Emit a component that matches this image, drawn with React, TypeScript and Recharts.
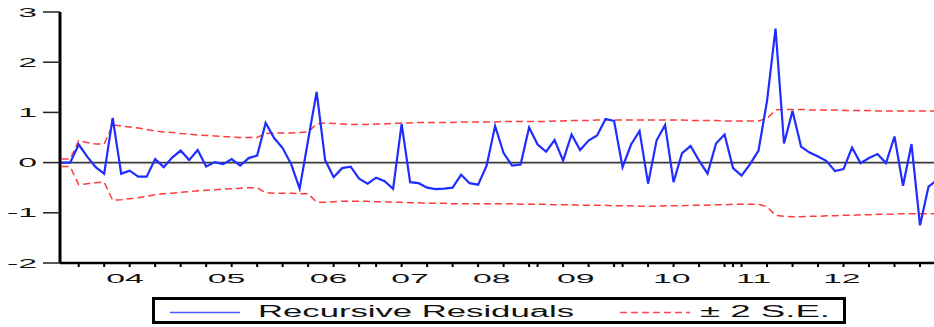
import { Legend, Line, LineChart, ReferenceLine, XAxis, YAxis } from "recharts";

// monthly recursive residuals
const residuals = [
  0.0, 0.0, 0.36, 0.12, -0.09, -0.22, 0.89, -0.22, -0.16, -0.28,
  -0.28, 0.07, -0.09, 0.1, 0.24, 0.05, 0.25, -0.08, 0.01, -0.03,
  0.07, -0.06, 0.09, 0.14, 0.79, 0.49, 0.29, -0.03, -0.52, 0.45,
  1.41, 0.05, -0.29, -0.11, -0.08, -0.32, -0.42, -0.3, -0.37, -0.52,
  0.77, -0.39, -0.41, -0.5, -0.53, -0.52, -0.5, -0.24, -0.41, -0.44,
  -0.06, 0.73, 0.19, -0.06, -0.04, 0.7, 0.36, 0.22, 0.45, 0.04,
  0.56, 0.25, 0.44, 0.54, 0.87, 0.83, -0.09, 0.36, 0.63, -0.42,
  0.44, 0.75, -0.39, 0.19, 0.33, 0.04, -0.22, 0.38, 0.56, -0.11,
  -0.26, -0.03, 0.24, 1.23, 2.67, 0.38, 1.03, 0.32, 0.2, 0.12,
  0.03, -0.17, -0.13, 0.3, -0.01, 0.09, 0.17, -0.01, 0.52, -0.46,
  0.37, -1.25, -0.48, -0.35,
];

const upperBand = [
  0.07, 0.07, 0.44, 0.4, 0.37, 0.37, 0.75, 0.73, 0.71, 0.69,
  0.66, 0.63, 0.61, 0.6, 0.58, 0.57, 0.55, 0.54, 0.53, 0.52,
  0.51, 0.5, 0.5, 0.5, 0.58, 0.59, 0.59, 0.59, 0.6, 0.61,
  0.77, 0.79, 0.78, 0.77, 0.76, 0.76, 0.76, 0.77, 0.77, 0.78,
  0.79, 0.79, 0.8, 0.8, 0.8, 0.8, 0.8, 0.81, 0.81, 0.81,
  0.81, 0.81, 0.82, 0.82, 0.82, 0.82, 0.82, 0.82, 0.83, 0.83,
  0.84, 0.84, 0.84, 0.85, 0.85, 0.85, 0.85, 0.85, 0.85, 0.85,
  0.85, 0.85, 0.85, 0.85, 0.84, 0.84, 0.84, 0.84, 0.83, 0.83,
  0.83, 0.83, 0.83, 0.88, 1.05, 1.06, 1.06, 1.06, 1.05, 1.05,
  1.05, 1.05, 1.04, 1.04, 1.04, 1.04, 1.03, 1.03, 1.03, 1.03,
  1.03, 1.03, 1.03, 1.03,
];

const lowerBand = [
  -0.08, -0.08, -0.44, -0.42, -0.4, -0.39, -0.75, -0.74, -0.72, -0.7,
  -0.67, -0.64, -0.62, -0.61, -0.59, -0.58, -0.56, -0.55, -0.54, -0.53,
  -0.52, -0.51, -0.5, -0.5, -0.6, -0.61, -0.61, -0.61, -0.62, -0.62,
  -0.79, -0.79, -0.78, -0.77, -0.77, -0.77, -0.77, -0.78, -0.78, -0.79,
  -0.79, -0.8, -0.8, -0.81, -0.81, -0.81, -0.82, -0.82, -0.82, -0.82,
  -0.82, -0.82, -0.82, -0.82, -0.83, -0.83, -0.83, -0.83, -0.84, -0.84,
  -0.84, -0.85, -0.85, -0.85, -0.85, -0.86, -0.86, -0.86, -0.87, -0.87,
  -0.87, -0.86, -0.86, -0.86, -0.85, -0.85, -0.85, -0.84, -0.84, -0.83,
  -0.83, -0.83, -0.83, -0.88, -1.05, -1.07, -1.08, -1.08, -1.07, -1.07,
  -1.06, -1.06, -1.05, -1.05, -1.04, -1.04, -1.03, -1.03, -1.03, -1.02,
  -1.02, -1.02, -1.02, -1.02,
];

const yearLabels = ["04", "05", "06", "07", "08", "09", "10", "11", "12"];
// where eviews put the year labels, in observation units
const yearTickPositions = [7.45, 19.4, 31.4, 41.0, 50.6, 60.5, 71.8, 81.4, 91.8];
const minorTickPositions = [
  2, 5, 8, 11, 14, 17, 20, 23, 26, 29, 32, 35, 37, 40, 43, 46, 49, 52, 55, 56,
  59, 62, 65, 66, 69, 72, 75, 78, 79, 80, 83, 86, 89, 92, 95, 98, 101,
];
const yTicks = [-2, -1, 0, 1, 2, 3];

const allXTicks = [...minorTickPositions, ...yearTickPositions].sort((a, b) => a - b);

const X_DOMAIN: [number, number] = [-0.2, 105];
const FONT = "'Liberation Sans', Arial, sans-serif";

const data = residuals.map((r, i) => ({
  obs: i,
  resid: r,
  upper: upperBand[i],
  lower: lowerBand[i],
}));

// one axis does both: short marks at the minor ticks, text at the year positions
function XTick({ x, y, payload }: any) {
  const idx = yearTickPositions.indexOf(payload.value);
  if (idx < 0) {
    return <line x1={x} x2={x} y1={y} y2={y + 4} stroke="#000" strokeWidth={2} />;
  }
  return (
    <text
      transform={`translate(${x},${y + 20}) scale(2.6,1)`}
      textAnchor="middle"
      fontSize={13}
      fontFamily={FONT}
      fill="#111"
    >
      {yearLabels[idx]}
    </text>
  );
}

function ValueTick({ x, y, payload }: any) {
  return (
    <text
      transform={`translate(${x - 4},${y}) scale(2.6,1)`}
      textAnchor="end"
      dy="0.36em"
      fontSize={13}
      fontFamily={FONT}
      fill="#111"
    >
      {payload.value}
    </text>
  );
}

function LegendBox() {
  return (
    <svg width={694} height={27} style={{ display: "block" }}>
      <rect x={1.5} y={1.5} width={691} height={24} fill="#fff" stroke="#000" strokeWidth={3} />
      <line x1={18} x2={88} y1={15.5} y2={15.5} stroke="#4a5aff" strokeWidth={1.5} />
      <text
        x={106}
        y={20}
        fontSize={16}
        fontFamily={FONT}
        fill="#111"
        textLength={316}
        lengthAdjust="spacingAndGlyphs"
      >
        Recursive Residuals
      </text>
      <line
        x1={468}
        x2={538}
        y1={15.5}
        y2={15.5}
        stroke="#ff4050"
        strokeWidth={1.5}
        strokeDasharray="7 4"
      />
      <text
        x={548}
        y={20}
        fontSize={16}
        fontFamily={FONT}
        fill="#111"
        textLength={130}
        lengthAdjust="spacingAndGlyphs"
      >
        ± 2 S.E.
      </text>
    </svg>
  );
}

export default function App() {
  return (
    <div
      style={{
        position: "fixed",
        left: 0,
        top: 0,
        width: 934,
        height: 327,
        overflow: "hidden",
        background: "#fff",
      }}
    >
      <LineChart
        width={960}
        height={327}
        data={data}
        margin={{ top: 12, right: 6, left: 0, bottom: 3 }}
      >
        <XAxis
          xAxisId="main"
          dataKey="obs"
          type="number"
          domain={X_DOMAIN}
          allowDataOverflow
          ticks={allXTicks}
          interval={0}
          tick={<XTick />}
          tickLine={false}
          tickSize={0}
          tickMargin={0}
          axisLine={{ stroke: "#000", strokeWidth: 2.5 }}
          height={34}
        />
        <XAxis
          xAxisId="top"
          orientation="top"
          dataKey="obs"
          type="number"
          domain={X_DOMAIN}
          allowDataOverflow
          tick={false}
          tickLine={false}
          axisLine={{ stroke: "#000", strokeWidth: 2.5 }}
          height={0}
        />
        <YAxis
          domain={[-2, 3]}
          ticks={yTicks}
          interval={0}
          allowDataOverflow
          width={60}
          tickSize={17}
          tickMargin={2}
          tickLine={{ stroke: "#222", strokeWidth: 1.5 }}
          axisLine={{ stroke: "#000", strokeWidth: 3 }}
          tick={<ValueTick />}
        />
        <ReferenceLine xAxisId="main" y={0} stroke="#3a3a3a" strokeWidth={1.6} />
        <Line
          xAxisId="main"
          dataKey="upper"
          type="linear"
          stroke="#ff3b3b"
          strokeWidth={1.5}
          strokeDasharray="7 4"
          dot={false}
          isAnimationActive={false}
        />
        <Line
          xAxisId="main"
          dataKey="lower"
          type="linear"
          stroke="#ff3b3b"
          strokeWidth={1.5}
          strokeDasharray="7 4"
          dot={false}
          isAnimationActive={false}
        />
        <Line
          xAxisId="main"
          dataKey="resid"
          type="linear"
          stroke="#1f2dff"
          strokeWidth={2.2}
          dot={false}
          isAnimationActive={false}
        />
        <Legend
          verticalAlign="bottom"
          content={() => <LegendBox />}
          wrapperStyle={{ left: 152, top: 297, bottom: "auto", width: 694, height: 27 }}
        />
      </LineChart>
    </div>
  );
}
